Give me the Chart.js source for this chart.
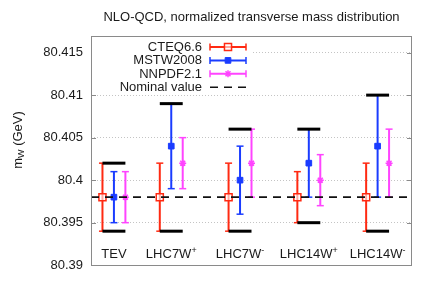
<!DOCTYPE html>
<html>
<head>
<meta charset="utf-8">
<script src="https://cdn.jsdelivr.net/npm/chart.js@4/dist/chart.umd.min.js"></script>
<style>
  html, body { margin: 0; padding: 0; background: #ffffff; }
  #wrap { width: 424px; height: 281px; }
</style>
</head>
<body>
<div id="wrap"><canvas id="c" width="424" height="281"></canvas></div>
<script>
// ---------------- data ----------------
const chartTitle = 'NLO-QCD, normalized transverse mass distribution';
const categories = ['TEV', 'LHC7W', 'LHC7W', 'LHC14W', 'LHC14W'];
const chargeLabels = ['', '+', '-', '+', '-'];
const xPositions = [1, 2, 3.2, 4.4, 5.6];

const seriesNames = ['CTEQ6.6', 'MSTW2008', 'NNPDF2.1'];

const cteqCentral = [80.398, 80.398, 80.398, 80.398, 80.398];
const cteqUpper   = [80.402, 80.402, 80.402, 80.401, 80.402];
const cteqLower   = [80.394, 80.394, 80.394, 80.395, 80.394];

const mstwCentral = [80.398, 80.404, 80.400, 80.402, 80.404];
const mstwUpper   = [80.401, 80.409, 80.404, 80.406, 80.410];
const mstwLower   = [80.395, 80.399, 80.396, 80.398, 80.398];

const nnpdfCentral = [80.398, 80.402, 80.402, 80.400, 80.402];
const nnpdfUpper   = [80.401, 80.405, 80.406, 80.403, 80.406];
const nnpdfLower   = [80.395, 80.399, 80.398, 80.397, 80.398];

const envelopeUpper = [80.402, 80.409, 80.406, 80.406, 80.410];
const envelopeLower = [80.394, 80.394, 80.394, 80.395, 80.394];

const nominalValue = 80.398;
const nominalLabel = 'Nominal value';

const yTickValues = [80.39, 80.395, 80.4, 80.405, 80.41, 80.415];
const yTickLabels = ['80.39', '80.395', '80.4', '80.405', '80.41', '80.415'];

// ---------------- style ----------------
const FONT = '"Liberation Sans", Arial, Helvetica, sans-serif';
const TEXT = '#1a1a1a';
const seriesStyles = [
  { color: '#ff2a12', offset: 0.0, pointStyle: 'rect', radius: 5, fill: 'rgba(255,255,255,0.6)', bw: 1.5 },
  { color: '#1a3cff', offset: 0.2, pointStyle: 'rect', radius: 4, fill: '#1a3cff', bw: 1 },
  { color: '#ff44ff', offset: 0.4, pointStyle: 'star', radius: 3.5, fill: '#ff44ff', bw: 1.5 }
];
const seriesData = [
  { central: cteqCentral, upper: cteqUpper, lower: cteqLower },
  { central: mstwCentral, upper: mstwUpper, lower: mstwLower },
  { central: nnpdfCentral, upper: nnpdfUpper, lower: nnpdfLower }
];

const datasets = seriesNames.map((name, s) => ({
  label: name,
  data: xPositions.map((x, i) => ({ x: x + seriesStyles[s].offset, y: seriesData[s].central[i] })),
  showLine: false,
  pointStyle: seriesStyles[s].pointStyle,
  pointRadius: seriesStyles[s].radius,
  pointHoverRadius: seriesStyles[s].radius,
  pointBorderWidth: seriesStyles[s].bw,
  borderColor: seriesStyles[s].color,
  backgroundColor: seriesStyles[s].fill
}));

function line(ctx, x1, y1, x2, y2) {
  ctx.beginPath(); ctx.moveTo(x1, y1); ctx.lineTo(x2, y2); ctx.stroke();
}

const decorPlugin = {
  id: 'decor',
  beforeDatasetsDraw(chart) {
    const ctx = chart.ctx, xs = chart.scales.x, ys = chart.scales.y, a = chart.chartArea;
    ctx.save();
    // inward tick marks on left and right
    ctx.strokeStyle = '#8a8a8a'; ctx.lineWidth = 1;
    yTickValues.forEach(v => {
      const py = Math.round(ys.getPixelForValue(v)) + 0.5;
      line(ctx, a.left, py, a.left + 5, py);
      line(ctx, a.right - 5, py, a.right, py);
    });
    // error bars
    seriesData.forEach((sd, s) => {
      const st = seriesStyles[s];
      ctx.strokeStyle = st.color;
      xPositions.forEach((x, i) => {
        const px = xs.getPixelForValue(x + st.offset);
        const ph = ys.getPixelForValue(sd.upper[i]);
        const pl = ys.getPixelForValue(sd.lower[i]);
        ctx.lineWidth = 2;
        line(ctx, px, ph, px, pl);
        ctx.lineWidth = 1.5;
        line(ctx, px - 3.5, ph, px + 3.5, ph);
        line(ctx, px - 3.5, pl, px + 3.5, pl);
      });
    });
    // envelope bars
    ctx.strokeStyle = '#000000'; ctx.lineWidth = 3;
    xPositions.forEach((x, i) => {
      const x1 = xs.getPixelForValue(x + seriesStyles[0].offset);
      const x2 = xs.getPixelForValue(x + seriesStyles[2].offset);
      line(ctx, x1, ys.getPixelForValue(envelopeUpper[i]), x2, ys.getPixelForValue(envelopeUpper[i]));
      line(ctx, x1, ys.getPixelForValue(envelopeLower[i]), x2, ys.getPixelForValue(envelopeLower[i]));
    });
    ctx.restore();
  },
  afterDatasetsDraw(chart) {
    const ctx = chart.ctx, xs = chart.scales.x, ys = chart.scales.y, a = chart.chartArea;
    ctx.save();
    // nominal dashed line
    ctx.strokeStyle = '#111111'; ctx.lineWidth = 1.6; ctx.setLineDash([8, 6]);
    const pn = ys.getPixelForValue(nominalValue);
    line(ctx, a.left, pn, a.right, pn);
    ctx.setLineDash([]);

    // category labels inside the plot
    ctx.fillStyle = TEXT; ctx.textBaseline = 'alphabetic';
    categories.forEach((c, i) => {
      const cx = xs.getPixelForValue(xPositions[i] + seriesStyles[1].offset);
      ctx.font = '13px ' + FONT;
      const w1 = ctx.measureText(c).width;
      ctx.font = '9px ' + FONT;
      const w2 = chargeLabels[i] ? ctx.measureText(chargeLabels[i]).width : 0;
      const x0 = cx - (w1 + w2) / 2;
      const base = a.bottom - 7;
      ctx.font = '13px ' + FONT; ctx.textAlign = 'left';
      ctx.fillText(c, x0, base);
      if (chargeLabels[i]) {
        ctx.font = '9px ' + FONT;
        ctx.fillText(chargeLabels[i], x0 + w1, base - 5);
      }
    });

    // legend
    ctx.fillStyle = '#ffffff';
    ctx.fillRect(a.left + 1, a.top + 1, 160, 57);
    const rowY0 = 47, rowStep = 13.4, textRight = 202, sx1 = 210, sx2 = 246;
    ctx.font = '13px ' + FONT; ctx.textAlign = 'right'; ctx.textBaseline = 'middle';
    seriesNames.forEach((name, s) => {
      const y = rowY0 + s * rowStep;
      const st = seriesStyles[s];
      ctx.fillStyle = TEXT;
      ctx.fillText(name, textRight, y + 0.5);
      ctx.strokeStyle = st.color; ctx.lineWidth = 2;
      line(ctx, sx1, y, sx2, y);
      ctx.lineWidth = 1.5;
      line(ctx, sx1, y - 3.5, sx1, y + 3.5);
      line(ctx, sx2, y - 3.5, sx2, y + 3.5);
      ctx.fillStyle = st.fill; ctx.strokeStyle = st.color; ctx.lineWidth = st.bw;
      Chart.helpers.drawPoint(ctx, {
        pointStyle: st.pointStyle, radius: st.radius, rotation: 0, borderWidth: st.bw
      }, (sx1 + sx2) / 2, y);
    });
    {
      const y = rowY0 + 3 * rowStep;
      ctx.fillStyle = TEXT;
      ctx.fillText(nominalLabel, textRight, y + 0.5);
      ctx.strokeStyle = '#111111'; ctx.lineWidth = 1.6; ctx.setLineDash([8, 6]);
      line(ctx, sx1, y, sx2, y);
      ctx.setLineDash([]);
    }

    // frame
    ctx.strokeStyle = '#8a8a8a'; ctx.lineWidth = 1;
    ctx.strokeRect(Math.round(a.left) + 0.5, Math.round(a.top) + 0.5,
                   Math.round(a.right - a.left) - 1, Math.round(a.bottom - a.top) - 1);

    // y axis title with subscript
    ctx.save();
    ctx.translate(18, 140);
    ctx.rotate(-Math.PI / 2);
    ctx.fillStyle = TEXT; ctx.textAlign = 'left'; ctx.textBaseline = 'middle';
    ctx.font = '13px ' + FONT;
    const wm = ctx.measureText('m').width;
    const wr = ctx.measureText(' (GeV)').width;
    ctx.font = '9px ' + FONT;
    const ww = ctx.measureText('W').width;
    let x = -(wm + ww + wr) / 2;
    ctx.font = '13px ' + FONT; ctx.fillText('m', x, 0); x += wm;
    ctx.font = '9px ' + FONT; ctx.fillText('W', x, 4); x += ww;
    ctx.font = '13px ' + FONT; ctx.fillText(' (GeV)', x, 0);
    ctx.restore();

    ctx.restore();
  }
};

new Chart(document.getElementById('c'), {
  type: 'scatter',
  data: { datasets },
  plugins: [decorPlugin],
  options: {
    responsive: false,
    animation: false,
    devicePixelRatio: 1,
    layout: { padding: { left: 0, right: 12, top: 0, bottom: 7 } },
    plugins: {
      legend: { display: false },
      tooltip: { enabled: false },
      title: {
        display: true,
        text: chartTitle,
        fullSize: false,
        color: TEXT,
        font: { family: FONT, size: 13, weight: 'normal', lineHeight: 1.2 },
        padding: { top: 10, bottom: 10 }
      }
    },
    scales: {
      x: { type: 'linear', min: 0.8, max: 6.4, display: false },
      y: {
        type: 'linear', min: 80.39, max: 80.417,
        afterBuildTicks(scale) { scale.ticks = yTickValues.map(v => ({ value: v })); },
        afterFit(scale) { scale.width = 91; },
        ticks: {
          color: TEXT,
          font: { family: FONT, size: 13 },
          padding: 8,
          callback(value, index) { return yTickLabels[index]; }
        },
        grid: { color: '#c4c4c4', lineWidth: 1, drawTicks: false },
        border: { display: false, dash: [1, 2] }
      }
    }
  }
});
</script>
</body>
</html>
